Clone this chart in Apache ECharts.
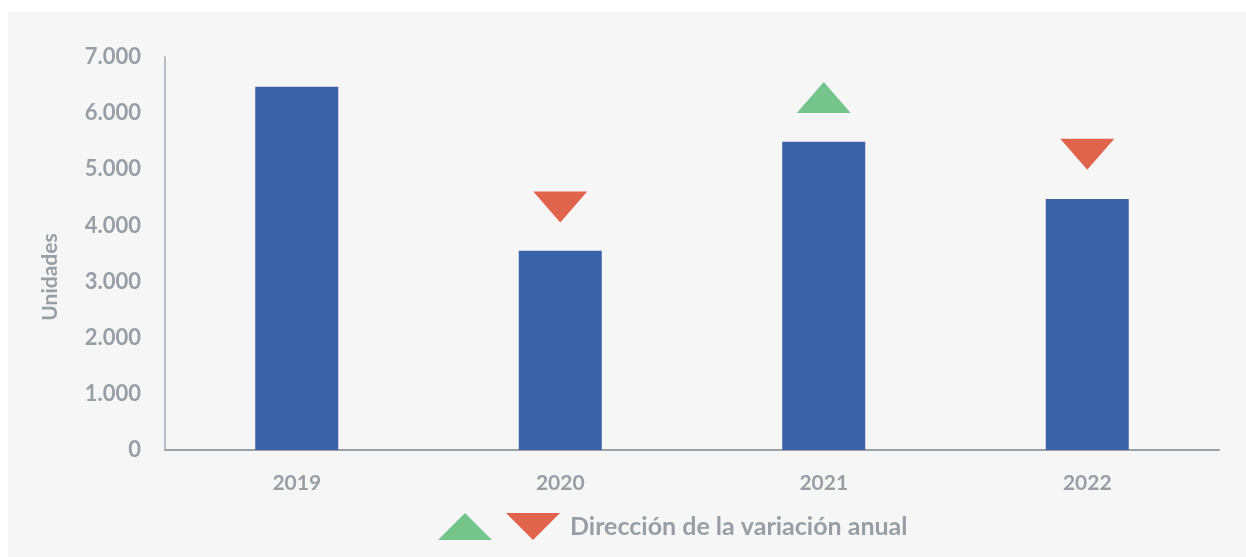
<!DOCTYPE html>
<html>
<head>
<meta charset="utf-8">
<script src="https://cdn.jsdelivr.net/npm/echarts@6/dist/echarts.min.js"></script>
<style>
  html, body { margin: 0; padding: 0; background: #ffffff; }
  #panel { position: absolute; left: 8px; top: 12px; width: 1238px; height: 545px; background: #f6f6f6; }
  #chart { position: absolute; left: -8px; top: -12px; width: 1246px; height: 557px; }
</style>
</head>
<body>
<div id="panel"><div id="chart"></div></div>
<script>
// years on the x axis
const years = ['2019', '2020', '2021', '2022']
// units per year
const units = [6470, 3550, 5490, 4470]
// where the direction arrows sit
const arrowUp = [null, null, 6280, null]
const arrowDown = [null, 4330, null, 5270]
const yTicks = [0, 1000, 2000, 3000, 4000, 5000, 6000, 7000]

const grayText = '#989ea6'
const font = 'Lato, "Open Sans", sans-serif'

function fmt(v) {
    return String(v).replace(/\B(?=(\d{3})+(?!\d))/g, '.')
}

var dom = document.getElementById('chart')
var chart = echarts.init(dom, null, { renderer: 'canvas' })

var option = {
    animation: false,
    backgroundColor: 'transparent',
    textStyle: { fontFamily: font },
    grid: { left: 165, right: 27, top: 57, bottom: 107 },
    legend: {
        bottom: 12,
        left: 433,
        itemWidth: 54,
        itemHeight: 31,
        itemGap: 14,
        selectedMode: false,
        formatter: function (name) { return name === 'Sube' ? '' : name },
        textStyle: { color: grayText, fontSize: 25, fontWeight: 'bold', fontFamily: font, padding: [4, 0, 0, 5] },
        data: [
            { name: 'Sube', icon: 'path://M1,0 L2,1 L0,1 Z' },
            { name: 'Dirección de la variación anual', icon: 'path://M0,0 L2,0 L1,1 Z' }
        ]
    },
    graphic: [{
        type: 'text',
        x: 50,
        y: 277,
        rotation: Math.PI / 2,
        style: {
            text: 'Unidades',
            fill: grayText,
            fontSize: 21,
            fontWeight: 'bold',
            fontFamily: font,
            textAlign: 'center',
            textVerticalAlign: 'middle'
        }
    }],
    xAxis: {
        type: 'category',
        data: years,
        axisLine: { lineStyle: { color: '#9aa0a7', width: 2 } },
        axisTick: { show: false },
        axisLabel: { color: grayText, fontSize: 21, fontWeight: 'bold', margin: 23 }
    },
    yAxis: {
        type: 'value',
        min: yTicks[0],
        max: yTicks[yTicks.length - 1],
        interval: 1000,
        axisLine: { show: true, lineStyle: { color: '#a3a8ae', width: 1.5 } },
        axisTick: { show: false },
        splitLine: { show: false },
        axisLabel: { color: grayText, fontSize: 22, fontWeight: 'bold', margin: 24, formatter: fmt }
    },
    series: [
        {
            type: 'bar',
            data: units,
            barWidth: '31.5%',
            itemStyle: { color: '#3a62a7' }
        },
        {
            name: 'Sube',
            type: 'scatter',
            data: arrowUp,
            symbol: 'triangle',
            symbolSize: [54, 31],
            itemStyle: { color: '#74c48c', opacity: 1 }
        },
        {
            name: 'Dirección de la variación anual',
            type: 'scatter',
            data: arrowDown,
            symbol: 'triangle',
            symbolRotate: 180,
            symbolSize: [54, 31],
            itemStyle: { color: '#e0644c', opacity: 1 }
        }
    ]
}

chart.setOption(option)
window.addEventListener('resize', chart.resize)
</script>
</body>
</html>
